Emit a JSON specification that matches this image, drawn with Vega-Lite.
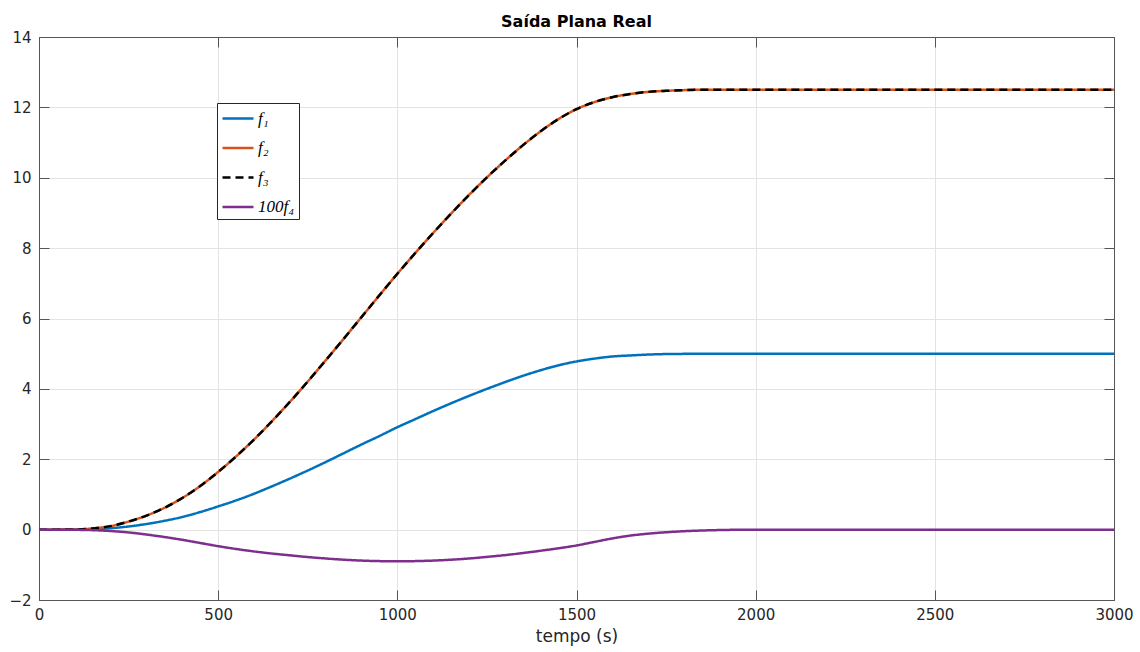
{
  "$schema": "https://vega.github.io/schema/vega-lite/v6.json",
  "width": 1075,
  "height": 563,
  "autosize": {"type": "none"},
  "padding": {"left": 39, "top": 37, "right": 26, "bottom": 52},
  "background": "white",
  "title": {
    "text": "Saída Plana Real",
    "font": "DejaVu Sans",
    "fontSize": 16,
    "fontWeight": "bold",
    "color": "#000000",
    "frame": "group",
    "anchor": "middle",
    "offset": 0
  },
  "data": {
    "values": [
      {"t": 0, "f1": 0, "f2": 0, "f3": 0, "f4": 0},
      {"t": 50, "f1": 0, "f2": 0, "f3": 0, "f4": 0},
      {"t": 100, "f1": 0.002, "f2": 0.005, "f3": 0.005, "f4": -0.005},
      {"t": 150, "f1": 0.014, "f2": 0.035, "f3": 0.035, "f4": -0.015},
      {"t": 200, "f1": 0.04, "f2": 0.1, "f3": 0.1, "f4": -0.04},
      {"t": 250, "f1": 0.09, "f2": 0.23, "f3": 0.23, "f4": -0.08},
      {"t": 300, "f1": 0.16, "f2": 0.4, "f3": 0.4, "f4": -0.14},
      {"t": 350, "f1": 0.25, "f2": 0.62, "f3": 0.62, "f4": -0.21},
      {"t": 400, "f1": 0.36, "f2": 0.9, "f3": 0.9, "f4": -0.29},
      {"t": 450, "f1": 0.5, "f2": 1.24, "f3": 1.24, "f4": -0.38},
      {"t": 500, "f1": 0.66, "f2": 1.64, "f3": 1.64, "f4": -0.47},
      {"t": 550, "f1": 0.83, "f2": 2.08, "f3": 2.08, "f4": -0.55},
      {"t": 600, "f1": 1.02, "f2": 2.56, "f3": 2.56, "f4": -0.62},
      {"t": 650, "f1": 1.23, "f2": 3.08, "f3": 3.08, "f4": -0.68},
      {"t": 700, "f1": 1.45, "f2": 3.63, "f3": 3.63, "f4": -0.73},
      {"t": 750, "f1": 1.68, "f2": 4.21, "f3": 4.21, "f4": -0.78},
      {"t": 800, "f1": 1.92, "f2": 4.81, "f3": 4.81, "f4": -0.82},
      {"t": 850, "f1": 2.17, "f2": 5.42, "f3": 5.42, "f4": -0.855},
      {"t": 900, "f1": 2.42, "f2": 6.04, "f3": 6.04, "f4": -0.88},
      {"t": 950, "f1": 2.66, "f2": 6.66, "f3": 6.66, "f4": -0.895},
      {"t": 1000, "f1": 2.91, "f2": 7.27, "f3": 7.27, "f4": -0.9},
      {"t": 1050, "f1": 3.14, "f2": 7.86, "f3": 7.86, "f4": -0.895},
      {"t": 1100, "f1": 3.37, "f2": 8.43, "f3": 8.43, "f4": -0.88},
      {"t": 1150, "f1": 3.59, "f2": 8.98, "f3": 8.98, "f4": -0.855},
      {"t": 1200, "f1": 3.8, "f2": 9.51, "f3": 9.51, "f4": -0.82},
      {"t": 1250, "f1": 4.0, "f2": 10.01, "f3": 10.01, "f4": -0.775},
      {"t": 1300, "f1": 4.19, "f2": 10.48, "f3": 10.48, "f4": -0.725},
      {"t": 1350, "f1": 4.37, "f2": 10.92, "f3": 10.92, "f4": -0.665},
      {"t": 1400, "f1": 4.53, "f2": 11.32, "f3": 11.32, "f4": -0.6},
      {"t": 1450, "f1": 4.67, "f2": 11.67, "f3": 11.67, "f4": -0.53},
      {"t": 1500, "f1": 4.78, "f2": 11.95, "f3": 11.95, "f4": -0.45},
      {"t": 1550, "f1": 4.86, "f2": 12.15, "f3": 12.15, "f4": -0.35},
      {"t": 1600, "f1": 4.92, "f2": 12.29, "f3": 12.29, "f4": -0.25},
      {"t": 1650, "f1": 4.95, "f2": 12.38, "f3": 12.38, "f4": -0.17},
      {"t": 1700, "f1": 4.975, "f2": 12.44, "f3": 12.44, "f4": -0.115},
      {"t": 1750, "f1": 4.99, "f2": 12.47, "f3": 12.47, "f4": -0.075},
      {"t": 1800, "f1": 4.995, "f2": 12.49, "f3": 12.49, "f4": -0.045},
      {"t": 1850, "f1": 5.0, "f2": 12.5, "f3": 12.5, "f4": -0.025},
      {"t": 1900, "f1": 5.0, "f2": 12.5, "f3": 12.5, "f4": -0.012},
      {"t": 1950, "f1": 5.0, "f2": 12.5, "f3": 12.5, "f4": -0.004},
      {"t": 2000, "f1": 5.0, "f2": 12.5, "f3": 12.5, "f4": 0},
      {"t": 2200, "f1": 5.0, "f2": 12.5, "f3": 12.5, "f4": 0},
      {"t": 2400, "f1": 5.0, "f2": 12.5, "f3": 12.5, "f4": 0},
      {"t": 2600, "f1": 5.0, "f2": 12.5, "f3": 12.5, "f4": 0},
      {"t": 2800, "f1": 5.0, "f2": 12.5, "f3": 12.5, "f4": 0},
      {"t": 3000, "f1": 5.0, "f2": 12.5, "f3": 12.5, "f4": 0}
    ]
  },
  "transform": [
    {"fold": ["f1", "f2", "f3", "f4"], "as": ["s", "v"]}
  ],
  "layer": [
    {
      "mark": {"type": "line", "strokeWidth": 2.5, "interpolate": "monotone"},
      "encoding": {
        "x": {
          "field": "t", "type": "quantitative",
          "scale": {"domain": [0, 3000], "nice": false, "zero": false},
          "axis": {
            "orient": "bottom", "title": "tempo (s)", "values": [0, 500, 1000, 1500, 2000, 2500, 3000],
            "format": "d",
            "grid": true, "tickSize": -10, "labelPadding": 17, "labelFlush": false,
            "titlePadding": 6
          }
        },
        "y": {
          "field": "v", "type": "quantitative",
          "scale": {"domain": [-2, 14], "nice": false, "zero": false},
          "axis": {
            "orient": "left", "title": null, "values": [-2, 0, 2, 4, 6, 8, 10, 12, 14],
            "grid": true, "tickSize": -10, "labelPadding": 18, "labelFlush": false
          }
        },
        "color": {
          "field": "s", "type": "nominal",
          "scale": {"domain": ["f1", "f2", "f3", "f4"], "range": ["#0072BD", "#D95319", "#000000", "#7E2F8E"]},
          "legend": {
            "title": null,
            "orient": "none",
            "legendX": 178,
            "legendY": 66,
            "labelExpr": "datum.value == 'f1' ? 'f₁' : datum.value == 'f2' ? 'f₂' : datum.value == 'f3' ? 'f₃' : '100f₄'"
          }
        },
        "strokeDash": {
          "field": "s", "type": "nominal",
          "scale": {"domain": ["f1", "f2", "f3", "f4"], "range": [[1, 0], [1, 0], [8, 5], [1, 0]]},
          "legend": {
            "title": null,
            "orient": "none",
            "legendX": 178,
            "legendY": 66,
            "labelExpr": "datum.value == 'f1' ? 'f₁' : datum.value == 'f2' ? 'f₂' : datum.value == 'f3' ? 'f₃' : '100f₄'"
          }
        }
      }
    },
    {
      "mark": {"type": "line", "opacity": 0},
      "encoding": {
        "x": {
          "field": "t", "type": "quantitative",
          "scale": {"domain": [0, 3000], "nice": false, "zero": false},
          "axis": {"orient": "top", "title": null, "labels": false, "grid": false, "tickSize": -10, "values": [0, 500, 1000, 1500, 2000, 2500, 3000]}
        },
        "y": {
          "field": "v", "type": "quantitative",
          "scale": {"domain": [-2, 14], "nice": false, "zero": false},
          "axis": {"orient": "right", "title": null, "labels": false, "grid": false, "tickSize": -10, "values": [-2, 0, 2, 4, 6, 8, 10, 12, 14]}
        }
      }
    }
  ],
  "resolve": {"axis": {"x": "independent", "y": "independent"}},
  "config": {
    "view": {"stroke": null},
    "axis": {
      "domainColor": "#555555",
      "domainWidth": 1,
      "tickColor": "#555555",
      "tickWidth": 1,
      "gridColor": "#e3e3e3",
      "gridWidth": 1,
      "labelFont": "DejaVu Sans",
      "labelFontSize": 15,
      "labelColor": "#262626",
      "titleFont": "DejaVu Sans",
      "titleFontSize": 17,
      "titleFontWeight": "normal",
      "titleColor": "#262626"
    },
    "legend": {
      "symbolType": "M-1.0,0H2.1",
      "symbolSize": 400,
      "symbolStrokeWidth": 2.5,
      "labelFont": "Liberation Serif",
      "labelFontStyle": "italic",
      "labelFontSize": 17,
      "labelColor": "#000000",
      "labelOffset": 14,
      "strokeColor": "#262626",
      "fillColor": "white",
      "padding": 4,
      "rowPadding": 9.5
    }
  }
}
